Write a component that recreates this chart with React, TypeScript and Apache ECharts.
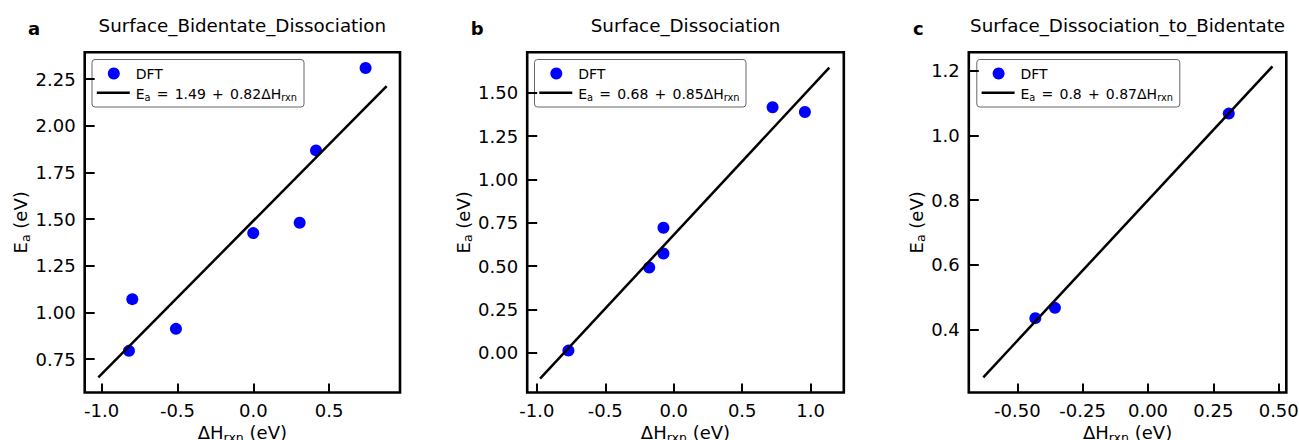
import React, { useEffect, useRef } from "react";
import * as echarts from "echarts";

// ---------- data ----------
const titles = ["Surface_Bidentate_Dissociation", "Surface_Dissociation", "Surface_Dissociation_to_Bidentate"];
const panelLetters = ["a", "b", "c"];

const dftAX = [-0.82, -0.798, -0.51, 0.0, 0.306, 0.414, 0.741];
const dftAY = [0.794, 1.071, 0.912, 1.425, 1.48, 1.868, 2.309];
const fitAX = [-1.022, 0.88];
const fitAY = [0.652, 2.212];

const dftBX = [-0.769, -0.179, -0.075, -0.075, 0.722, 0.958];
const dftBY = [0.012, 0.492, 0.573, 0.721, 1.417, 1.39];
const fitBX = [-0.976, 1.136];
const fitBY = [-0.15, 1.646];

const dftCX = [-0.431, -0.356, 0.309];
const dftCY = [0.435, 0.467, 1.068];
const fitCX = [-0.63, 0.476];
const fitCY = [0.252, 1.214];

const fitIntercepts = ["1.49", "0.68", "0.8"];
const fitSlopes = ["0.82", "0.85", "0.87"];

const xTicksA = [-1.0, -0.5, 0.0, 0.5];
const yTicksA = [0.75, 1.0, 1.25, 1.5, 1.75, 2.0, 2.25];
const xTicksB = [-1.0, -0.5, 0.0, 0.5, 1.0];
const yTicksB = [0.0, 0.25, 0.5, 0.75, 1.0, 1.25, 1.5];
const xTicksC = [-0.5, -0.25, 0.0, 0.25, 0.5];
const yTicksC = [0.4, 0.6, 0.8, 1.0, 1.2];

const xRanges = [[-1.112, 0.968], [-1.07, 1.242], [-0.6855, 0.529]];
const yRanges = [[0.571, 2.394], [-0.23, 1.735], [0.205, 1.258]];
const xDecimals = [1, 1, 2];
const yDecimals = [2, 2, 1];

// ---------- layout ----------
const FONT = "DejaVu Sans";
const gridLefts = [84.7, 527.2, 968.8];
const gridWidths = [315.3, 316.6, 317.5];
const gridTop = 52.2;
const gridHeight = 340.3;
const legendLefts = [92, 534.5, 976.8];
const legendWidths = [212, 211.5, 203];
const legendTop = 59.5;
const yNameGaps = [52, 52, 39.5];

const zip = (xs: number[], ys: number[]) => xs.map((x, i) => [x, ys[i]]);

export default function App() {
  const ref = useRef<HTMLDivElement>(null);
  useEffect(() => {
    if (!ref.current) return;
    const chart = echarts.init(ref.current, null, { renderer: "svg" });
    const dftX = [dftAX, dftBX, dftCX];
    const dftY = [dftAY, dftBY, dftCY];
    const fitX = [fitAX, fitBX, fitCX];
    const fitY = [fitAY, fitBY, fitCY];
    const xTicks = [xTicksA, xTicksB, xTicksC];
    const yTicks = [yTicksA, yTicksB, yTicksC];

    const subRich = {
      m: { fontSize: 18, fontFamily: FONT, color: "#000", lineHeight: 22 },
      s: { fontSize: 12.6, fontFamily: FONT, color: "#000", lineHeight: 14, verticalAlign: "bottom" as const },
    };

    const grids = [0, 1, 2].map((i) => ({
      left: gridLefts[i],
      top: gridTop,
      width: gridWidths[i],
      height: gridHeight,
      show: true,
      borderColor: "#000",
      borderWidth: 2.6,
      backgroundColor: "transparent",
      containLabel: false,
      outerBoundsMode: "none",
    }));

    const xAxes = [0, 1, 2].map((i) => ({
      type: "value",
      gridIndex: i,
      position: "bottom",
      min: xRanges[i][0],
      max: xRanges[i][1],
      splitLine: { show: false },
      axisLine: { show: false, onZero: false },
      axisTick: { show: true, inside: true, length: 9, lineStyle: { color: "#000", width: 2 }, customValues: xTicks[i] },
      axisLabel: {
        show: true,
        margin: 8.5,
        fontSize: 18,
        fontFamily: FONT,
        color: "#000",
        customValues: xTicks[i],
        formatter: (v: number) => v.toFixed(xDecimals[i]),
      },
      name: "{m|ΔH}{s|rxn}{m| (eV)}",
      nameLocation: "middle",
      nameGap: 27.5,
      nameTextStyle: { rich: subRich },
    }));

    const yAxes = [0, 1, 2].map((i) => ({
      type: "value",
      gridIndex: i,
      position: "left",
      min: yRanges[i][0],
      max: yRanges[i][1],
      splitLine: { show: false },
      axisLine: { show: false, onZero: false },
      axisTick: { show: true, inside: true, length: 10, lineStyle: { color: "#000", width: 2 }, customValues: yTicks[i] },
      axisLabel: {
        show: true,
        margin: 9,
        fontSize: 18,
        fontFamily: FONT,
        color: "#000",
        customValues: yTicks[i],
        formatter: (v: number) => v.toFixed(yDecimals[i]),
      },
      name: "{m|E}{s|a}{m| (eV)}",
      nameLocation: "middle",
      nameRotate: 90,
      nameGap: yNameGaps[i],
      nameTextStyle: { rich: subRich },
    }));

    const series: any[] = [];
    [0, 1, 2].forEach((i) => {
      series.push({
        type: "scatter",
        name: "DFT",
        xAxisIndex: i,
        yAxisIndex: i,
        symbol: "circle",
        symbolSize: 12,
        itemStyle: { color: "#0000ff", opacity: 1 },
        data: zip(dftX[i], dftY[i]),
        z: 2,
      });
    });
    [0, 1, 2].forEach((i) => {
      series.push({
        type: "line",
        name: "fit",
        xAxisIndex: i,
        yAxisIndex: i,
        symbol: "none",
        lineStyle: { color: "#000", width: 2.5 },
        data: zip(fitX[i], fitY[i]),
        z: 3,
      });
    });

    const graphics: any[] = [];
    [0, 1, 2].forEach((i) => {
      const cx = gridLefts[i] + gridWidths[i] / 2;
      graphics.push({
        type: "text",
        x: cx,
        y: 25.4,
        style: { text: titles[i], fontSize: 18.3, fontFamily: FONT, fill: "#000", align: "center", verticalAlign: "middle" },
      });
    });
    const letterX = [28, 470.7, 913];
    [0, 1, 2].forEach((i) => {
      graphics.push({
        type: "text",
        x: letterX[i],
        y: 28.8,
        style: { text: panelLetters[i], fontSize: 18, fontWeight: "bold", fontFamily: FONT, fill: "#000", align: "left", verticalAlign: "middle" },
      });
    });
    [0, 1, 2].forEach((i) => {
      graphics.push({
        type: "group",
        x: legendLefts[i],
        y: legendTop,
        z: 10,
        children: [
          {
            type: "rect",
            shape: { x: 0, y: 0, width: legendWidths[i], height: 47.5, r: 3 },
            style: { fill: "rgba(255,255,255,0.8)", stroke: "#666", lineWidth: 1 },
          },
          {
            type: "circle",
            shape: { cx: 21.8, cy: 14, r: 6 },
            style: { fill: "#0000ff" },
          },
          {
            type: "line",
            shape: { x1: 4.8, y1: 33.3, x2: 37.8, y2: 33.3 },
            style: { stroke: "#000", lineWidth: 2.5 },
          },
          {
            type: "text",
            x: 43.7,
            y: 14,
            style: { text: "DFT", fontSize: 14, fontFamily: FONT, fill: "#000", align: "left", verticalAlign: "middle" },
          },
          {
            type: "text",
            x: 43.7,
            y: 34,
            style: {
              text: `{m|E}{s|a}{o|=}{m|${fitIntercepts[i]}}{o|+}{m|${fitSlopes[i]}ΔH}{s|rxn}`,
              align: "left",
              verticalAlign: "middle",
              rich: {
                m: { fontSize: 14, fontFamily: FONT, fill: "#000", lineHeight: 18 },
                o: { fontSize: 14, fontFamily: FONT, fill: "#000", lineHeight: 18, padding: [0, 6.2, 0, 6.2] },
                s: { fontSize: 9.8, fontFamily: FONT, fill: "#000", lineHeight: 10, verticalAlign: "bottom" },
              },
            },
          },
        ],
      });
    });

    chart.setOption({
      animation: false,
      backgroundColor: "#fff",
      textStyle: { fontFamily: FONT },
      grid: grids,
      xAxis: xAxes,
      yAxis: yAxes,
      series,
      graphic: graphics,
    } as any);
    return () => chart.dispose();
  }, []);
  return <div ref={ref} style={{ position: "fixed", left: 0, top: 0, width: 1299, height: 440 }} />;
}
